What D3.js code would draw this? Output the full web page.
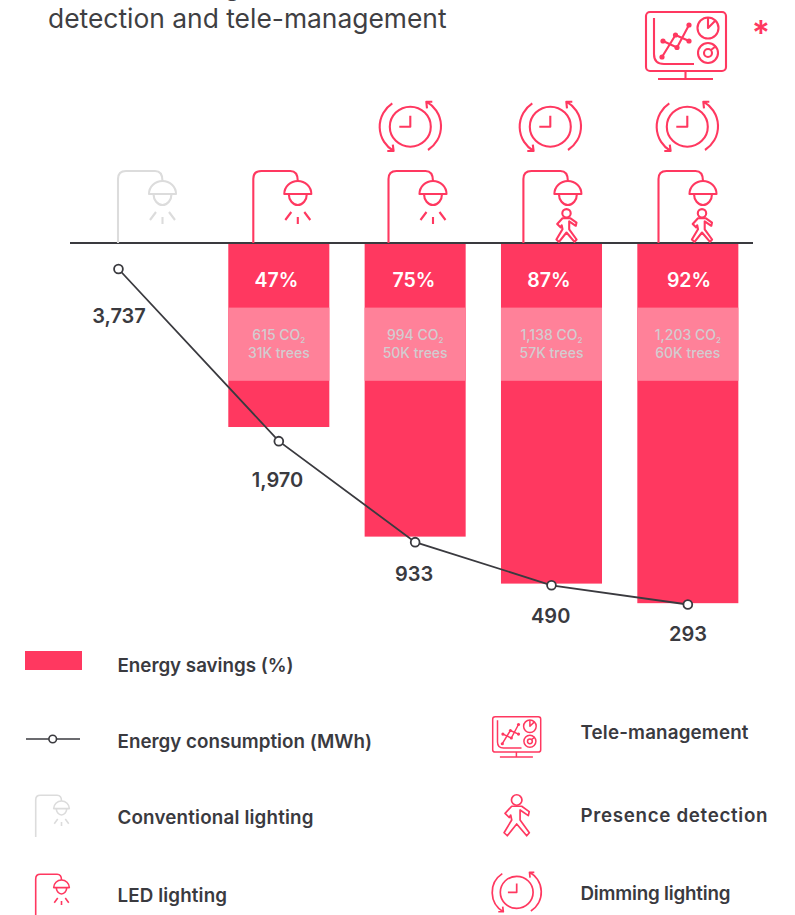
<!DOCTYPE html>
<html>
<head>
<meta charset="utf-8">
<script src="https://cdn.jsdelivr.net/npm/d3@7"></script>
<style>
  html, body { margin: 0; padding: 0; background: #fff; overflow: hidden; }
  svg { display: block; }
  text { font-family: Inter, sans-serif; }
</style>
</head>
<body>
<div id="chart"></div>
<script>
// values
const categories = ['Conventional', 'LED', 'LED + dimming', 'LED + dimming + presence', 'LED + dimming + presence + tele-management'];
const savingsPct = [0, 47, 75, 87, 92];
const consumptionMwh = [3737, 1970, 933, 490, 293];
const co2Labels = ['', '615 CO', '994 CO', '1,138 CO', '1,203 CO'];
const treeLabels = ['', '31K trees', '50K trees', '57K trees', '60K trees'];
const titleLine = 'detection and tele-management';
const legendLeft = ['Energy savings (%)', 'Energy consumption (MWh)', 'Conventional lighting', 'LED lighting'];
const legendRight = ['Tele-management', 'Presence detection', 'Dimming lighting'];

const pink = '#ff3860', paleBand = '#ff8199', ink = '#3a3a3f', grey = '#dcdcdc', bandText = '#d2ccd0';

const width = 795, height = 915, baseY = 243;

const svg = d3.select('#chart').append('svg')
  .attr('width', width).attr('height', height);

const x = d3.scaleBand().domain(categories).range([74.3, 756])
  .paddingInner(0.259).paddingOuter(0.1295);
const ySavings = d3.scaleLinear().domain([0, 100]).range([baseY, baseY + 391.5]);
const yEnergy = d3.scaleLinear().domain([293, 3737]).range([604.5, 269]);

// the first point sits left of its column in the original
const pointX = (d, i) => x(categories[i]) + x.bandwidth() / 2 + (i === 0 ? -24 : 0);

// title, top line is cut off by the page edge
const title = svg.append('g').attr('fill', '#3f3f43').attr('font-size', 26.4);
title.append('text').attr('x', 48).attr('y', 28).text(titleLine);
title.append('text').attr('x', 224).attr('y', -5).text('g');
title.append('text').attr('x', 395).attr('y', -5).text('p');

// bars
svg.append('g').selectAll('rect')
  .data(categories.filter((c, i) => savingsPct[i] > 0))
  .join('rect')
  .attr('x', d => x(d)).attr('y', baseY)
  .attr('width', x.bandwidth())
  .attr('height', d => ySavings(savingsPct[categories.indexOf(d)]) - baseY)
  .attr('fill', pink);

// paler band with the CO2 figures
svg.append('g').selectAll('rect')
  .data(categories.filter((c, i) => savingsPct[i] > 0))
  .join('rect')
  .attr('x', d => x(d)).attr('y', 307.6)
  .attr('width', x.bandwidth()).attr('height', 73.2)
  .attr('fill', paleBand);

const cols = d3.range(1, categories.length);
const pctX = [0, 276.5, 414, 549, 689];
svg.append('g').selectAll('text').data(cols).join('text')
  .attr('x', i => pctX[i]).attr('y', 286.7)
  .attr('text-anchor', 'middle').attr('fill', '#fff')
  .attr('font-size', 19.5).attr('font-weight', 600)
  .text(i => savingsPct[i] + '%');

const co2 = svg.append('g').attr('fill', bandText).attr('font-size', 14).attr('font-weight', 500)
  .attr('text-anchor', 'middle');
cols.forEach(i => {
  const cx = x(categories[i]) + x.bandwidth() / 2;
  const t = co2.append('text').attr('x', cx).attr('y', 340);
  t.append('tspan').text(co2Labels[i]);
  t.append('tspan').attr('font-size', 8).attr('dy', 3).text('2');
  co2.append('text').attr('x', cx).attr('y', 357.7).text(treeLabels[i]);
});

// axis line
svg.append('line').attr('x1', 70).attr('x2', 753).attr('y1', baseY).attr('y2', baseY)
  .attr('stroke', ink).attr('stroke-width', 2);

// consumption line
const line = d3.line().x(pointX).y(d => yEnergy(d));
svg.append('path').datum(consumptionMwh)
  .attr('d', line).attr('fill', 'none')
  .attr('stroke', ink).attr('stroke-width', 1.8);
svg.append('g').selectAll('circle').data(consumptionMwh).join('circle')
  .attr('cx', pointX).attr('cy', d => yEnergy(d)).attr('r', 4.4)
  .attr('fill', '#fff').attr('stroke', ink).attr('stroke-width', 1.8);

const labelX = [119, 277.5, 414, 550.7, 688];
const labelY = [322.7, 487, 581, 622.7, 640.7];
svg.append('g').selectAll('text').data(consumptionMwh).join('text')
  .attr('x', (d, i) => labelX[i]).attr('y', (d, i) => labelY[i])
  .attr('text-anchor', 'middle').attr('fill', ink)
  .attr('font-size', 20).attr('font-weight', 600)
  .text(d => d3.format(',')(d));

// icons, pole foot / head centre / clock centre / screen corner is the origin
function lamp(g, color, withRays) {
  g.attr('fill', 'none').attr('stroke', color).attr('stroke-linejoin', 'round');
  g.append('path').attr('d', 'M0,0 V-64 Q0,-72 8,-72 H37 Q44.5,-72 44.5,-62');
  g.append('path').attr('d', 'M31,-49 H58 A13.5,13 0 0 0 31,-49 Z');
  g.append('path').attr('d', 'M35.5,-49 A9,11 0 0 0 53.5,-49');
  if (withRays) {
    g.append('path').attr('d', 'M44.5,-26 V-19 M38,-31 L32,-23 M51,-31 L57,-23');
  }
}
function person(g, color) {
  g.attr('fill', 'none').attr('stroke', color).attr('stroke-linejoin', 'round');
  g.append('circle').attr('r', 4.2);
  g.append('path').attr('d', 'M-4,5 H4 L10,9.3 L9.3,12.5 L2.7,8 V16 L10.1,26.2 L8,28.6 L0,19.2 L-7.5,28.6 L-10.1,26.2 L-4,16 L-4.8,12 L-6,14 L-9.3,10.7 Z');
}
function clock(g, color) {
  g.attr('fill', 'none').attr('stroke', color).attr('stroke-linejoin', 'round');
  g.append('ellipse').attr('rx', 20.5).attr('ry', 20);
  g.append('path').attr('d', 'M0,-11 V0 H-11');
  g.append('path').attr('d', 'M-18,-23.3 A28,28 0 0 0 -16.7,24.3 M-23,24.3 H-16.7 L-17.5,18');
  g.append('path').attr('d', 'M17.7,23.3 A28,28 0 0 0 16,-25 M22,-25 H16 L16.7,-18.3');
}
function monitor(g, color) {
  g.attr('fill', 'none').attr('stroke', color).attr('stroke-linejoin', 'round');
  g.append('rect').attr('width', 80).attr('height', 59).attr('rx', 4);
  g.append('path').attr('d', 'M39.5,59 V67 M12,67 H67');
  g.append('path').attr('d', 'M8,6 V42 Q8,52 18,52 H48');
  g.append('path').attr('d', 'M16,45 L29.5,23 L43,29 M17,29 L31,35.5 L43,13');
  g.append('circle').attr('cx', 62).attr('cy', 16).attr('r', 10.5);
  g.append('path').attr('d', 'M62,6 V16 L69,9');
  g.append('circle').attr('cx', 62).attr('cy', 41).attr('r', 10);
  g.append('circle').attr('cx', 62).attr('cy', 41).attr('r', 4);
  g.append('path').attr('d', 'M65,38 L70,34');
  g.selectAll('circle.dot').data([[16, 45], [29.5, 23], [43, 29], [17, 29], [31, 35.5], [43, 13]])
    .join('circle').attr('class', 'dot')
    .attr('cx', d => d[0]).attr('cy', d => d[1]).attr('r', 2.6)
    .attr('fill', color).attr('stroke', 'none');
}
// sw is the stroke width on the page, whatever the scale
const place = (fn, px, py, k, sw, ...rest) => {
  const g = svg.append('g').attr('transform', `translate(${px},${py}) scale(${k})`)
    .attr('stroke-width', sw / k);
  fn(g, ...rest);
};

const poleX = [118, 253.3, 388.5, 523.4, 658.5];
const clockX = [410.3, 550.3, 687.3];
poleX.forEach((px, i) => place(lamp, px, baseY, 1, 2.1, i === 0 ? grey : pink, i < 3));
clockX.forEach(cx => place(clock, cx, 126.7, 1, 2.1, pink));
[566.5, 702].forEach(px => place(person, px, 213.3, 1, 2.1, pink));
place(monitor, 646, 12, 1, 2.1, pink);

svg.append('text').attr('x', 761).attr('y', 44.5).attr('text-anchor', 'middle')
  .attr('fill', pink).attr('font-size', 34).attr('font-weight', 600).text('*');

// legend
svg.append('rect').attr('x', 25).attr('y', 651).attr('width', 57).attr('height', 19).attr('fill', pink);
svg.append('line').attr('x1', 26).attr('x2', 80).attr('y1', 739).attr('y2', 739)
  .attr('stroke', ink).attr('stroke-width', 1.6);
svg.append('circle').attr('cx', 52.7).attr('cy', 739).attr('r', 3.8)
  .attr('fill', '#fff').attr('stroke', ink).attr('stroke-width', 1.6);
place(lamp, 35.7, 837, 0.58, 1.6, grey, true);
place(lamp, 35.7, 916, 0.58, 1.6, pink, true);
place(monitor, 492.7, 716.7, 0.6, 1.5, pink);
place(person, 516.7, 800, 1.25, 1.7, pink);
place(clock, 516.7, 892.3, 0.8, 1.7, pink);

const leftY = [672, 748, 824.3, 901.6];
const rightY = [739.3, 822.3, 900];
const leftW = [176, 254.5, 196, 109.5];
const rightW = [168, 187, 150];
const legendText = svg.append('g').attr('fill', ink).attr('font-size', 18.8).attr('font-weight', 600);
legendLeft.forEach((t, i) => legendText.append('text').attr('x', 117.5).attr('y', leftY[i])
  .attr('textLength', leftW[i]).text(t));
legendRight.forEach((t, i) => legendText.append('text').attr('x', 580.5).attr('y', rightY[i])
  .attr('textLength', rightW[i]).text(t));
</script>
</body>
</html>
